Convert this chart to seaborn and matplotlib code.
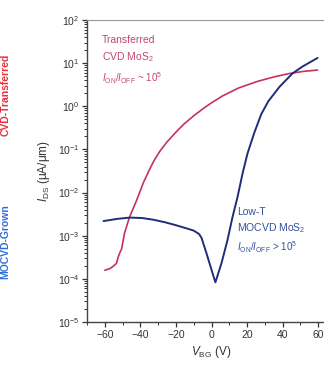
import numpy as np
import pandas as pd
import matplotlib
matplotlib.use('Agg')
import matplotlib.pyplot as plt
import seaborn as sns
from matplotlib.ticker import LogLocator, MultipleLocator, NullFormatter

# Transferred CVD MoS2 (red) - gate voltage (V) and log10 of current (uA/um)
red_vbg = [-60, -57, -55, -53.4, -52.5, -51.7, -50.5, -48.9, -46.1, -42.1, -38.2,
           -35, -32.6, -29, -25.3, -20, -15.7, -10, -3.9, 0, 6.2, 15, 25.3, 35, 43.8,
           52, 59.6]
red_log = [-3.80, -3.76, -3.70, -3.64, -3.50, -3.41, -3.30, -2.94, -2.57, -2.18, -1.76,
           -1.48, -1.28, -1.04, -0.84, -0.60, -0.42, -0.22, -0.03, 0.08, 0.24, 0.42,
           0.57, 0.68, 0.76, 0.81, 0.84]

# Low-T MOCVD MoS2 (blue)
blue_vbg = [-60.7, -53, -46.1, -39, -32.6, -26, -19.7, -14, -10.1, -7, -5.6, -2.8,
            0.6, 2.2, 5.6, 9.0, 11.8, 14.6, 17.4, 20.2, 24, 28, 32, 38.2, 45.5, 51.1,
            59.6]
blue_log = [-2.66, -2.61, -2.58, -2.59, -2.63, -2.69, -2.76, -2.83, -2.88, -2.96,
            -3.05, -3.41, -3.87, -4.08, -3.64, -3.10, -2.57, -2.11, -1.57, -1.10,
            -0.62, -0.18, 0.12, 0.45, 0.76, 0.92, 1.12]

red_df = pd.DataFrame({'V': red_vbg, 'I': 10 ** np.array(red_log)})
blue_df = pd.DataFrame({'V': blue_vbg, 'I': 10 ** np.array(blue_log)})

sns.set_style('ticks')
plt.rcParams['font.family'] = ['Liberation Sans', 'DejaVu Sans']
plt.rcParams['mathtext.fontset'] = 'custom'
plt.rcParams['mathtext.rm'] = 'Liberation Sans'
plt.rcParams['mathtext.it'] = 'Liberation Sans:italic'

red = '#c8325a'
blue = '#1f2d7a'

fig = plt.figure(figsize=(3.24, 3.65), dpi=100)
ax = fig.add_axes([87 / 324, 43 / 365, 249 / 324, 302 / 365])

sns.lineplot(data=red_df, x='V', y='I', ax=ax, color=red, lw=1.2, sort=False)
sns.lineplot(data=blue_df, x='V', y='I', ax=ax, color=blue, lw=1.4, sort=False)

ax.set_yscale('log')
ax.set_ylim(1e-5, 1e2)
ax.set_xlim(-70, 70)
ax.set_xticks([-60, -40, -20, 0, 20, 40, 60])
ax.xaxis.set_minor_locator(MultipleLocator(10))
ax.yaxis.set_major_locator(LogLocator(base=10, numticks=10))
ax.yaxis.set_minor_locator(LogLocator(base=10, subs=np.arange(2, 10), numticks=20))
ax.yaxis.set_minor_formatter(NullFormatter())
ax.tick_params(axis='both', which='major', labelsize=7.5, length=3.5, width=0.9,
               colors='#333333', pad=2)
ax.tick_params(axis='both', which='minor', length=2, width=0.7, colors='#333333')
for s in ['left', 'bottom']:
    ax.spines[s].set_color('#444444')
    ax.spines[s].set_linewidth(1.0)
ax.spines['top'].set_color('#999999')
ax.spines['right'].set_color('#999999')

ax.set_xlabel(r'$V_{\mathrm{BG}}$ (V)', fontsize=8.5, color='#333333', labelpad=3)
ax.set_ylabel(r'$I_{\mathrm{DS}}$ ($\mathrm{\mu}$A/$\mathrm{\mu}$m)', fontsize=8.5,
              color='#333333', labelpad=4)

tc_red = '#c4466a'
tc_blue = '#34509e'
fig.text(102 / 324, 1 - 40 / 365, 'Transferred', fontsize=7.5, color=tc_red, va='center')
fig.text(102 / 324, 1 - 57 / 365, r'CVD MoS$_2$', fontsize=7.5, color=tc_red, va='center')
fig.text(102 / 324, 1 - 78 / 365, r'$I_{\mathrm{ON}}/I_{\mathrm{OFF}}$ ~ 10$^5$',
         fontsize=7, color=tc_red, va='center')

fig.text(237 / 324, 1 - 212 / 365, 'Low-T', fontsize=7.5, color=tc_blue, va='center')
fig.text(237 / 324, 1 - 228 / 365, r'MOCVD MoS$_2$', fontsize=7.5, color=tc_blue, va='center')
fig.text(237 / 324, 1 - 247 / 365, r'$I_{\mathrm{ON}}/I_{\mathrm{OFF}}$ > 10$^5$',
         fontsize=7, color=tc_blue, va='center')

# labels of the neighbouring panel, seen at the left edge
fig.text(0.5 / 324, 1 - 95 / 365, 'CVD-Transferred', rotation=90, fontsize=7.5,
         fontweight='bold', color='#e8323c', va='center', ha='left')
fig.text(0.5 / 324, 1 - 242 / 365, 'MOCVD-Grown', rotation=90, fontsize=7.5,
         fontweight='bold', color='#2f6fd8', va='center', ha='left')

fig.savefig('out.png', dpi=100)
